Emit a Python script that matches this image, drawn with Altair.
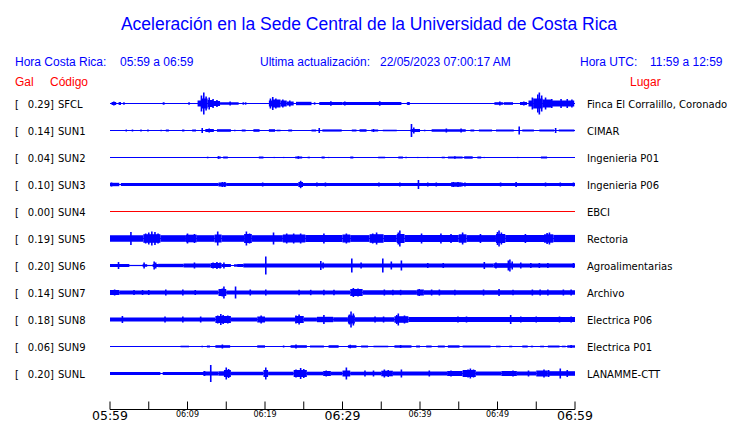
import altair as alt
import pandas as pd

# ---------------- data ----------------
codes = ["SFCL", "SUN1", "SUN2", "SUN3", "SUN4", "SUN5", "SUN6", "SUN7", "SUN8", "SUN9", "SUNL"]
peak_gal = ["0.29]", "0.14]", "0.04]", "0.10]", "0.00]", "0.19]", "0.20]", "0.14]", "0.18]", "0.06]", "0.20]"]
places = ["Finca El Corralillo, Coronado", "CIMAR", "Ingenieria P01", "Ingenieria P06", "EBCI",
          "Rectoria", "Agroalimentarias", "Archivo", "Electrica P06", "Electrica P01", "LANAMME-CTT"]

# envelope segments per station: (start minute, end minute, half amplitude)
seg_SFCL = [(0.2, 0.8, 1.5), (1.1, 1.4, 1.3), (6.9, 7.1, 0.8), (11.3, 11.8, 3), (11.8, 12.6, 5), (12.6, 13.3, 3.5),
            (13.3, 14.2, 2.5), (14.2, 16.6, 1.3), (20.5, 21.0, 3), (21.0, 22.0, 4), (22.0, 22.8, 3), (22.8, 23.7, 2),
            (24.0, 26.0, 1.7), (27.0, 30.0, 1.5), (30.0, 37.6, 1.5), (38.3, 38.7, 1.3), (49.6, 50.7, 1.3),
            (50.8, 52.0, 1.3), (52.9, 53.8, 1.5), (54.0, 54.6, 3), (54.6, 55.8, 5), (55.8, 57.0, 4), (57.0, 59.9, 3)]
seg_SUN1 = [(2.0, 2.2, 1), (2.8, 3.0, 1), (3.9, 4.1, 1), (4.8, 5.0, 1), (6.5, 6.7, 0.8), (7.2, 7.6, 1), (9.3, 9.6, 1),
            (10.6, 11.1, 1), (12.3, 13.4, 1.5), (13.8, 15.6, 1.3), (16.0, 16.2, 0.8), (17.0, 17.5, 1), (18.5, 19.3, 1.3),
            (20.5, 21.3, 1.3), (21.5, 22.0, 0.8), (23.0, 23.5, 1), (26.0, 26.6, 1), (27.4, 29.9, 1.1), (31.2, 31.8, 1),
            (32.2, 33.1, 1.3), (33.7, 34.6, 1), (35.2, 37.0, 0.8), (38.8, 40.0, 1.5), (40.5, 40.7, 0.8),
            (41.5, 45.9, 1.3), (46.5, 47.0, 1), (47.6, 49.3, 1), (49.8, 52.1, 1), (53.2, 54.7, 1), (55.4, 57.3, 1),
            (57.9, 59.9, 1)]
seg_SUN2 = [(12.5, 12.7, 0.8), (13.9, 14.3, 1), (14.6, 15.2, 1), (19.2, 19.8, 1), (21.1, 21.3, 0.6), (22.3, 22.5, 0.6),
            (23.9, 24.8, 1), (25.5, 25.8, 0.8), (27.3, 27.7, 1), (28.1, 28.3, 0.6), (31.0, 31.4, 1), (34.6, 35.5, 0.8),
            (37.2, 37.8, 1), (38.1, 38.3, 0.8), (39.6, 39.8, 0.6), (40.9, 41.1, 0.6), (41.6, 41.8, 0.6),
            (42.8, 43.2, 0.8), (43.6, 45.5, 1), (45.7, 46.8, 1.2), (47.4, 47.9, 1), (48.2, 48.4, 0.6),
            (52.5, 52.7, 0.6), (55.6, 56.4, 1), (59.1, 59.3, 0.6)]
seg_SUN3 = [(0, 1.2, 1.7), (1.4, 14.0, 1.4), (14.0, 15.0, 2), (15.0, 24.3, 1.5), (24.3, 24.9, 2.5), (24.9, 44.0, 1.5),
            (44.0, 45.3, 2.2), (45.3, 60, 1.6)]
seg_SUN4 = []
seg_SUN5 = [(0, 4.3, 3.3), (4.3, 6.5, 4.3), (6.5, 9.8, 3.3), (9.8, 11.2, 3.8), (11.2, 13.5, 3.3), (13.5, 14.4, 4),
            (14.4, 17.3, 3.3), (17.3, 18.3, 4.5), (18.3, 22.3, 3.3), (22.3, 25.2, 4), (25.2, 30.0, 3.5),
            (30.0, 31.0, 4), (31.0, 33.5, 3.4), (33.5, 35.3, 4.3), (35.3, 37.0, 3.5), (37.0, 38.0, 4.5),
            (38.0, 45.0, 3.6), (45.0, 46.0, 4.2), (46.0, 49.8, 3.4), (49.8, 51.0, 4.5), (51.0, 56.0, 3.5),
            (56.0, 57.2, 4.2), (57.2, 60, 3.6)]
seg_SUN6 = [(0, 2.5, 1.5), (2.5, 4.2, 0.6), (4.2, 4.8, 1.3), (4.8, 5.5, 0.6), (5.5, 6.2, 1.5), (6.2, 9.5, 1.7),
            (9.5, 13.0, 2), (13.0, 14.4, 2.5), (14.4, 15.6, 1.5), (16.0, 16.4, 1.2), (16.4, 17.2, 1.5),
            (17.2, 49.5, 2), (49.5, 52.0, 2.3), (52.0, 60, 2)]
seg_SUN7 = [(0, 1.2, 2.5), (1.2, 14.0, 2), (14.0, 15.0, 3.5), (15.0, 31.0, 2), (31.0, 32.6, 3.5), (32.6, 39.6, 2.2),
            (39.6, 40.5, 3), (40.5, 60, 2.2)]
seg_SUN8 = [(0, 13.6, 2), (13.6, 15.6, 3.5), (15.6, 19.0, 2), (19.0, 20.0, 3), (20.0, 23.9, 2), (23.9, 25.0, 3.5),
            (25.0, 26.7, 2), (26.7, 28.8, 2.7), (28.8, 30.7, 2.2), (30.7, 31.6, 4), (31.6, 36.7, 2.3),
            (36.7, 38.5, 3.3), (38.5, 60, 2.5)]
seg_SUN9 = [(1.6, 1.8, 0.6), (9.1, 10.2, 0.8), (11.8, 12.0, 0.8), (12.5, 12.9, 1), (13.6, 15.5, 1.3), (15.9, 16.1, 0.6),
            (19.0, 20.0, 1.2), (22.3, 22.5, 1), (23.3, 25.4, 1.3), (25.8, 27.6, 1), (28.2, 29.5, 1.3),
            (30.7, 31.8, 1.3), (32.4, 33.3, 1), (34.0, 35.9, 0.8), (36.7, 38.9, 1.2), (39.5, 40.0, 1),
            (40.8, 41.5, 1), (42.3, 43.2, 1), (43.6, 45.1, 1.2), (45.5, 49.1, 1), (49.8, 50.4, 0.8),
            (51.5, 51.9, 0.8), (53.2, 53.9, 1), (54.3, 54.6, 0.8), (55.5, 56.0, 0.8), (56.5, 58.0, 1),
            (58.3, 58.8, 0.8), (59.0, 60, 1.2)]
seg_SUNL = [(0, 6.5, 1.6), (6.8, 12.0, 1.6), (12.0, 14.0, 2), (14.0, 14.9, 2.2), (14.7, 15.6, 3.5), (15.6, 19.8, 1.8),
            (19.8, 20.4, 3.5), (20.4, 23.7, 1.8), (23.7, 25.4, 3.5), (25.4, 27.5, 1.8), (27.5, 28.5, 2.5),
            (28.5, 30.0, 1.8), (30.0, 31.0, 3), (31.0, 35.0, 1.8), (35.0, 36.5, 2.8), (36.5, 43.5, 2),
            (43.5, 45.5, 2.5), (45.5, 47.2, 3.5), (47.2, 50.5, 2), (50.5, 52.5, 2.5), (52.5, 55.0, 2),
            (55.0, 56.5, 3), (56.5, 60, 2.3)]

# isolated spikes per station: (minute, half amplitude)
spk_SFCL = [(0.5, 2), (1.3, 1.5), (1.8, 1.2), (6.9, 1.2), (10.2, 1.2), (11.8, 8), (12.1, 11), (12.4, 7), (12.8, 6),
            (13.3, 4.5), (13.8, 3.5), (15.5, 2), (17.2, 1.2), (17.5, 1.2), (20.7, 5), (21.0, 6.5), (21.4, 5),
            (22.3, 4), (23.2, 3), (26.4, 1.2), (28.5, 2.2), (30.3, 2), (34.8, 2.3), (38.5, 1.5), (50.3, 2),
            (53.4, 2), (54.5, 6), (55.2, 9), (55.4, 11), (55.7, 8), (56.2, 6), (57.0, 4.5), (58.2, 4.5),
            (59.0, 4.5), (59.6, 4)]
spk_SUN1 = [(11.9, 2.5), (12.8, 2), (27.0, 2.5), (34.0, 1.5), (38.9, 6.5), (39.2, 3), (43.4, 2), (45.3, 2),
            (52.8, 4), (57.5, 2.5)]
spk_SUN2 = [(14.0, 1.3), (24.3, 1.3), (44.5, 1.3)]
spk_SUN3 = [(0.2, 2), (14.5, 2.5), (14.8, 2.5), (19.7, 2), (24.6, 3.7), (26.7, 2), (27.8, 2), (34.7, 2), (37.4, 2),
            (39.8, 4.5), (41.0, 2), (42.1, 2), (44.3, 2.5), (44.9, 2.5), (45.4, 2), (45.8, 2), (50.4, 2),
            (52.4, 2.5), (56.2, 2), (58.1, 2), (59.8, 2)]
spk_SUN4 = []
spk_SUN5 = [(2.7, 6.5), (4.6, 5), (5.0, 6), (5.4, 7), (5.8, 6.5), (6.2, 5), (10.0, 5), (10.9, 4.5), (13.9, 7),
            (17.6, 7), (18.0, 5), (21.1, 6), (22.8, 5), (23.7, 5), (24.6, 5), (27.6, 5), (30.5, 5), (33.9, 5),
            (34.4, 6), (37.2, 6), (37.4, 8), (40.2, 5), (42.7, 5), (44.0, 4.5), (45.5, 6), (47.8, 4.5), (50.0, 6.5),
            (50.2, 8), (50.5, 6), (53.6, 4.5), (56.4, 5.5), (56.7, 6)]
spk_SUN6 = [(1.1, 3.5), (4.4, 3), (5.7, 4), (5.9, 3), (10.9, 3), (13.3, 3), (13.8, 3.5), (14.2, 3), (14.7, 3),
            (20.1, 9), (27.2, 4.5), (27.5, 3), (31.2, 7), (32.4, 3), (35.2, 7), (36.3, 4), (37.6, 5), (41.0, 2.5),
            (43.0, 2.5), (48.3, 3.5), (49.8, 3), (51.4, 5), (51.6, 6), (51.9, 4), (53.0, 3), (54.3, 2.5),
            (55.4, 2.5), (56.5, 2.5), (59.8, 2.5)]
spk_SUN7 = [(0.6, 3), (3.1, 2.5), (4.2, 2.5), (5.0, 2.5), (7.2, 3), (9.4, 3), (11.0, 2.5), (14.5, 4), (14.7, 6),
            (16.2, 6), (18.1, 3), (20.1, 3), (24.4, 2.7), (25.9, 2.7), (27.6, 2.7), (28.9, 2.7), (31.4, 4.5),
            (32.0, 4), (35.4, 3), (36.5, 2.7), (37.5, 2.7), (39.9, 3.5), (41.5, 3), (42.5, 3), (44.5, 2.7),
            (48.2, 3), (50.2, 3.5), (52.0, 2.7), (54.5, 3), (55.5, 3), (56.5, 3), (58.5, 3), (59.5, 3)]
spk_SUN8 = [(1.6, 3.5), (7.1, 3), (9.4, 3), (11.7, 3), (13.9, 4), (14.3, 5.5), (14.6, 4.5), (15.2, 4), (19.5, 4),
            (24.0, 4), (24.4, 5), (27.6, 4.5), (30.9, 5), (31.1, 8), (31.4, 6), (34.2, 3), (35.3, 3), (37.0, 4.5),
            (37.2, 6), (38.0, 4), (44.9, 3), (46.0, 3), (51.7, 4.5), (53.0, 3), (55.0, 3), (58.0, 3), (59.5, 3)]
spk_SUN9 = [(14.5, 2), (24.0, 2), (31.0, 1.8), (37.5, 1.5), (59.5, 1.5)]
spk_SUNL = [(12.2, 2.5), (13.0, 8.5), (15.0, 6), (15.3, 4.5), (20.1, 6), (24.0, 4), (24.6, 5.5), (25.0, 4.5),
            (27.9, 3), (30.5, 6), (32.9, 3), (34.0, 3), (35.4, 4), (35.9, 3.5), (37.6, 4), (41.2, 3), (44.0, 3),
            (46.2, 4), (46.5, 5), (46.9, 4), (50.8, 2.5), (52.0, 3), (54.0, 3), (56.0, 4), (56.6, 3.5), (58.1, 5),
            (59.0, 3.5)]

tick_minutes = [0, 5, 10, 15, 20, 25, 30, 35, 40, 45, 50, 55, 60]
major_minutes = [0, 30, 60]
major_labels = ["05:59", "06:29", "06:59"]
minor_minutes = [10, 20, 40, 50]
minor_labels = ["06:09", "06:19", "06:39", "06:49"]

segments = [seg_SFCL, seg_SUN1, seg_SUN2, seg_SUN3, seg_SUN4, seg_SUN5, seg_SUN6, seg_SUN7, seg_SUN8, seg_SUN9, seg_SUNL]
spikes = [spk_SFCL, spk_SUN1, spk_SUN2, spk_SUN3, spk_SUN4, spk_SUN5, spk_SUN6, spk_SUN7, spk_SUN8, spk_SUN9, spk_SUNL]

# ---------------- frames ----------------
ROW = 27.0
W, H = 465, 297
BLUE = "#0000ff"
RED = "#ff0000"

base_df = pd.DataFrame({"code": codes, "gal": peak_gal, "place": places,
                        "yc": [i * ROW for i in range(len(codes))],
                        "t0": 0, "t1": 60})
seg_rows, spk_rows = [], []
for i, (segs, spks) in enumerate(zip(segments, spikes)):
    for a, b, h in segs:
        seg_rows.append({"code": codes[i], "t0": a, "t1": b, "lo": i * ROW - h, "hi": i * ROW + h})
    for t, h in spks:
        spk_rows.append({"code": codes[i], "t": t, "lo": i * ROW - h, "hi": i * ROW + h})
seg_df = pd.DataFrame(seg_rows)
spk_df = pd.DataFrame(spk_rows)

xs = alt.Scale(domain=[0, 60], nice=False, zero=False)
ys = alt.Scale(domain=[-ROW / 2, ROW * len(codes) - ROW / 2], nice=False, zero=False, reverse=True)

base_line = alt.Chart(base_df).mark_rule(strokeWidth=1).encode(
    x=alt.X("t0:Q", scale=xs, axis=None), x2="t1:Q",
    y=alt.Y("yc:Q", scale=ys, axis=None),
    color=alt.condition(alt.datum.code == "SUN4", alt.value(RED), alt.value(BLUE)),
)
bodies = alt.Chart(seg_df).mark_rect(color=BLUE).encode(
    x=alt.X("t0:Q", scale=xs, axis=None), x2="t1:Q",
    y=alt.Y("lo:Q", scale=ys, axis=None), y2="hi:Q",
)
spk = alt.Chart(spk_df).mark_rule(color=BLUE, strokeWidth=1.6).encode(
    x=alt.X("t:Q", scale=xs, axis=None),
    y=alt.Y("lo:Q", scale=ys, axis=None), y2="hi:Q",
)

ROWFONT = "DejaVu Sans"
HFONT = "Liberation Sans"
TDY = 1.0
bracket = alt.Chart(base_df).mark_text(align="left", baseline="middle", fontSize=10, font=ROWFONT, color="black", dy=TDY).encode(
    x=alt.value(-95), y=alt.Y("yc:Q", scale=ys, axis=None), text=alt.value("["))
gal_t = alt.Chart(base_df).mark_text(align="right", baseline="middle", fontSize=10, font=ROWFONT, color="black", dy=TDY).encode(
    x=alt.value(-56), y=alt.Y("yc:Q", scale=ys, axis=None), text="gal:N")
code_t = alt.Chart(base_df).mark_text(align="left", baseline="middle", fontSize=10, font=ROWFONT, color="black", dy=TDY).encode(
    x=alt.value(-52), y=alt.Y("yc:Q", scale=ys, axis=None), text="code:N")
place_t = alt.Chart(base_df).mark_text(align="left", baseline="middle", fontSize=10, font=ROWFONT, color="black", dy=TDY).encode(
    x=alt.value(477), y=alt.Y("yc:Q", scale=ys, axis=None), text="place:N")

# time axis
AX_Y = ROW * len(codes) - ROW / 2 + 22.5  # axis line position in y units
tick_df = pd.DataFrame({"t": tick_minutes, "a": AX_Y - 8, "b": AX_Y})
ticks = alt.Chart(tick_df).mark_rule(color="black", strokeWidth=1).encode(
    x=alt.X("t:Q", scale=xs, axis=None), y=alt.Y("a:Q", scale=ys, axis=None), y2="b:Q")
axis_line = alt.Chart(pd.DataFrame({"t0": [0], "t1": [60], "y": [AX_Y]})).mark_rule(color="black", strokeWidth=1).encode(
    x=alt.X("t0:Q", scale=xs, axis=None), x2="t1:Q", y=alt.Y("y:Q", scale=ys, axis=None))
maj_df = pd.DataFrame({"t": major_minutes, "lab": major_labels, "y": AX_Y + 6.5})
min_df = pd.DataFrame({"t": minor_minutes, "lab": minor_labels, "y": AX_Y + 5.5})
maj_lab = alt.Chart(maj_df).mark_text(align="center", baseline="middle", fontSize=12.5, font="DejaVu Sans", color="black").encode(
    x=alt.X("t:Q", scale=xs, axis=None), y=alt.Y("y:Q", scale=ys, axis=None), text="lab:N")
min_lab = alt.Chart(min_df).mark_text(align="center", baseline="middle", fontSize=8, font="DejaVu Sans", color="black").encode(
    x=alt.X("t:Q", scale=xs, axis=None), y=alt.Y("y:Q", scale=ys, axis=None), text="lab:N")


def txt(s, x, y, size, color, font=HFONT, align="left"):
    return alt.Chart(pd.DataFrame({"s": [s]})).mark_text(
        align=align, baseline="middle", fontSize=size, color=color, font=font
    ).encode(x=alt.value(x), y=alt.value(y), text="s:N")


OX, OY = 110, 90  # plot origin on page
texts = [
    txt("Aceleración en la Sede Central de la Universidad de Costa Rica", 369 - OX, 24.5 - OY, 17.5, BLUE, align="center"),
    txt("Hora Costa Rica:", 15 - OX, 62 - OY, 12, BLUE),
    txt("05:59 a 06:59", 120 - OX, 62 - OY, 12, BLUE),
    txt("Ultima actualización:", 260 - OX, 62 - OY, 12, BLUE),
    txt("22/05/2023 07:00:17 AM", 380 - OX, 62 - OY, 12, BLUE),
    txt("Hora UTC:", 580 - OX, 62 - OY, 12, BLUE),
    txt("11:59 a 12:59", 650 - OX, 62 - OY, 12, BLUE),
    txt("Gal", 15 - OX, 82 - OY, 12, RED),
    txt("Código", 50 - OX, 82 - OY, 12, RED),
    txt("Lugar", 630 - OX, 82 - OY, 12, RED),
]

chart = alt.layer(
    base_line, bodies, spk, bracket, gal_t, code_t, place_t, ticks, axis_line, maj_lab, min_lab, *texts
).properties(
    width=W, height=H,
    autosize=alt.AutoSizeParams(type="none"),
    padding={"left": OX - 8, "top": OY - 8, "right": 724 - (OX - 8) - W, "bottom": 414 - (OY - 8) - H},
    background="white",
).configure_view(stroke=None)

chart.save("out.html", embed_options={"renderer": "svg", "actions": False})
